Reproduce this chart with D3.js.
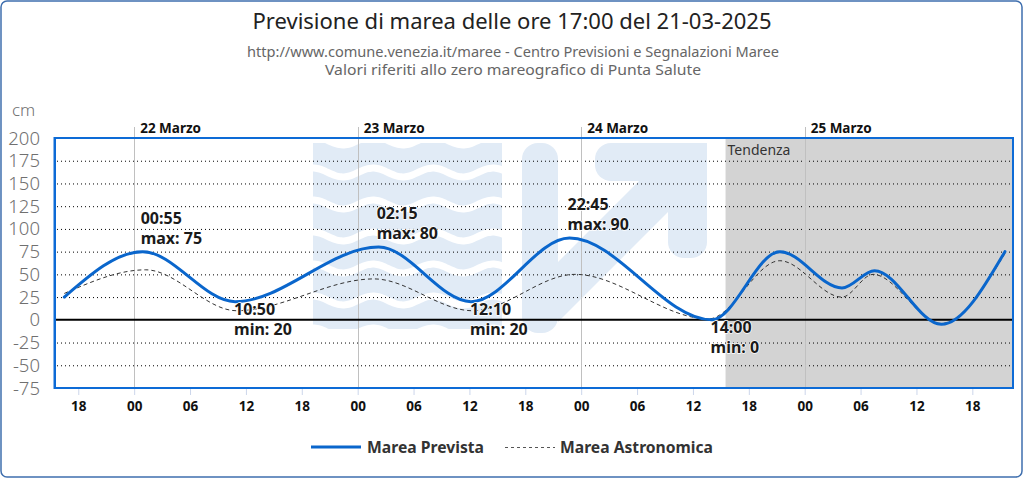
<!DOCTYPE html>
<html><head><meta charset="utf-8">
<script src="https://cdn.jsdelivr.net/npm/d3@7"></script>
<style>
html,body{margin:0;padding:0;background:#fff;}
svg{display:block;font-family:"Noto Sans",sans-serif;}
</style></head><body>
<svg id="chart" width="1024" height="480"></svg>
<script>
// ---------------- data ----------------
const titleText = "Previsione di marea delle ore 17:00 del 21-03-2025";
const subtitleLines = [
  "http://www.comune.venezia.it/maree - Centro Previsioni e Segnalazioni Maree",
  "Valori riferiti allo zero mareografico di Punta Salute"
];
const yTicks = [-75, -50, -25, 0, 25, 50, 75, 100, 125, 150, 175, 200];
const dayLabels = ["22 Marzo", "23 Marzo", "24 Marzo", "25 Marzo"];
const dayTimes = ["2025-03-22 00:00", "2025-03-23 00:00", "2025-03-24 00:00", "2025-03-25 00:00"];
const xDomainTimes = ["2025-03-21 15:30", "2025-03-25 22:22"];
const trendStart = "2025-03-24 15:30";
const trendLabel = "Tendenza";
const yUnit = "cm";

const previstaTimes = ["2025-03-21 16:30", "2025-03-22 00:55", "2025-03-22 10:50", "2025-03-23 02:15",
  "2025-03-23 12:10", "2025-03-23 22:45", "2025-03-24 14:00", "2025-03-24 21:20",
  "2025-03-25 04:00", "2025-03-25 07:30", "2025-03-25 14:40", "2025-03-25 21:30"];
const previstaValues = [25, 75, 20, 80, 20, 90, 0, 75, 35, 54, -5, 75];

const astroTimes = ["2025-03-21 16:30", "2025-03-22 01:15", "2025-03-22 11:00", "2025-03-23 01:45",
  "2025-03-23 12:20", "2025-03-23 23:20", "2025-03-24 13:40", "2025-03-24 21:20",
  "2025-03-25 04:00", "2025-03-25 07:20", "2025-03-25 14:40", "2025-03-25 21:30"];
const astroValues = [29, 55, 10, 45, 10, 50, 1, 65, 25, 50, -4, 73];

const extremeTimes = ["2025-03-22 00:55", "2025-03-22 10:50", "2025-03-23 02:15",
  "2025-03-23 12:10", "2025-03-23 22:45", "2025-03-24 14:00"];
const extremeValues = [75, 20, 80, 20, 90, 0];
const extremeTypes = ["max", "min", "max", "min", "max", "min"];

const seriesNames = ["Marea Prevista", "Marea Astronomica"];

// ---------------- drawing ----------------
const parse = d3.timeParse("%Y-%m-%d %H:%M");
const fmtHM = d3.timeFormat("%H:%M");
const fmtH = d3.timeFormat("%H");

const svg = d3.select("#chart");
const P = {left: 55, right: 1013, top: 138, bottom: 388};

const x = d3.scaleTime().domain(xDomainTimes.map(parse)).range([P.left, P.right]);
const y = d3.scaleLinear().domain([-75, 200]).range([P.bottom, P.top]);

const BLUE = "#0a66cc";
const WM = "#e1ebf6";

// outer frame
svg.append("rect").attr("x", 1).attr("y", 1).attr("width", 1021).attr("height", 476)
  .attr("rx", 6).attr("fill", "#fff").attr("stroke", "#3f6fae").attr("stroke-width", 1.5);

// title
svg.append("text").attr("x", 512).attr("y", 29).attr("text-anchor", "middle")
  .attr("font-size", 21).attr("fill", "#222")
  .attr("textLength", 519).attr("lengthAdjust", "spacingAndGlyphs").text(titleText);
const subW = [532, 376];
subtitleLines.forEach((s, i) => {
  svg.append("text").attr("x", 513).attr("y", 57 + i * 18).attr("text-anchor", "middle")
    .attr("font-size", 14).attr("fill", "#666")
    .attr("textLength", subW[i]).attr("lengthAdjust", "spacingAndGlyphs").text(s);
});

// watermark (plot background image)
const defs = svg.append("defs");
defs.append("clipPath").attr("id", "waveclip")
  .append("rect").attr("x", 313).attr("y", 143).attr("width", 189).attr("height", 186);
const wg = svg.append("g").attr("clip-path", "url(#waveclip)");
wg.append("rect").attr("x", 313).attr("y", 140).attr("width", 189).attr("height", 195).attr("fill", WM);
const waveLine = d3.line().curve(d3.curveBasis);
for (let k = 0; k < 7; k++) {
  const y0 = 140.5 + k * 32;
  const pts = [];
  for (let xx = 305; xx <= 510; xx += 3) pts.push([xx, y0 - 4.5 * Math.cos((xx - 313) / 60 * 2 * Math.PI)]);
  wg.append("path").attr("d", waveLine(pts)).attr("fill", "none").attr("stroke", "#fff")
    .attr("stroke-width", 7);
}
const wm = svg.append("g").attr("fill", WM);
wm.append("rect").attr("x", 522).attr("y", 143).attr("width", 36).attr("height", 190).attr("rx", 16);
wm.append("rect").attr("x", 595).attr("y", 143).attr("width", 112).attr("height", 38).attr("rx", 16);
wm.append("rect").attr("x", 668).attr("y", 143).attr("width", 39).attr("height", 115).attr("rx", 16);
wm.append("rect").attr("x", 640).attr("y", 143).attr("width", 67).attr("height", 38);
wm.append("rect").attr("x", 668).attr("y", 160).attr("width", 39).attr("height", 60);
wm.append("path").attr("d", "M558,262 L640,180 L668,180 L668,212 L558,322 Z");

// plot band
const xt = parse(trendStart);
svg.append("rect").attr("x", x(xt)).attr("y", P.top).attr("width", P.right - x(xt))
  .attr("height", P.bottom - P.top).attr("fill", "#d3d3d3");
svg.append("text").attr("x", x(xt) + 2).attr("y", 155).attr("font-size", 14)
  .attr("fill", "#333").text(trendLabel);

// horizontal dotted gridlines
svg.append("g").selectAll("line").data(yTicks.filter(v => v !== 0 && v !== 200 && v !== -75))
  .join("line").attr("x1", P.left + 2).attr("x2", P.right - 1)
  .attr("y1", d => y(d) + 0.5).attr("y2", d => y(d) + 0.5)
  .attr("stroke", "#000").attr("stroke-width", 1).attr("stroke-dasharray", "1,3");

// vertical day lines
const days = dayTimes.map(parse);
svg.append("g").selectAll("line").data(days).join("line")
  .attr("x1", d => Math.round(x(d)) + 0.5).attr("x2", d => Math.round(x(d)) + 0.5)
  .attr("y1", 127).attr("y2", P.bottom).attr("stroke", "#c0c0c0").attr("stroke-width", 1);
svg.append("g").selectAll("text").data(days).join("text")
  .attr("x", d => x(d) + 6).attr("y", 133).attr("font-size", 13.5).attr("font-weight", "bold")
  .attr("fill", "#111").text((d, i) => dayLabels[i]);

// zero line
svg.append("line").attr("x1", P.left).attr("x2", P.right).attr("y1", y(0)).attr("y2", y(0))
  .attr("stroke", "#000").attr("stroke-width", 2);

// y axis labels
svg.append("g").selectAll("text").data(yTicks).join("text")
  .attr("x", 40).attr("y", d => y(d) + 6.5).attr("text-anchor", "end")
  .attr("font-size", 18.5).attr("font-weight", 300).attr("fill", "#707070").text(d => d);
svg.append("text").attr("x", 12).attr("y", 116).attr("font-size", 17).attr("font-weight", 300)
  .attr("fill", "#707070").text(yUnit);

// x axis
const xAxis = d3.axisBottom(x).ticks(d3.timeHour.every(6)).tickFormat(fmtH).tickSize(7).tickPadding(6);
const gx = svg.append("g").attr("transform", `translate(0,${P.bottom})`).call(xAxis);
gx.select(".domain").remove();
gx.selectAll(".tick line").attr("stroke", "#ccd6eb");
gx.selectAll(".tick text").attr("font-size", 13.5).attr("font-weight", "bold").attr("fill", "#111")
  .attr("font-family", "Noto Sans, sans-serif");

// series
const line = d3.line().x(d => x(d[0])).y(d => y(d[1])).curve(d3.curveMonotoneX);
const astro = astroTimes.map((t, i) => [parse(t), astroValues[i]]);
const prev = previstaTimes.map((t, i) => [parse(t), previstaValues[i]]);
svg.append("path").attr("d", line(astro)).attr("fill", "none").attr("stroke", "#333")
  .attr("stroke-width", 1).attr("stroke-dasharray", "4,3");
svg.append("path").attr("d", line(prev)).attr("fill", "none").attr("stroke", BLUE)
  .attr("stroke-width", 3).attr("stroke-linejoin", "round").attr("stroke-linecap", "round");

// extreme labels
const lg = svg.append("g").attr("font-size", 16).attr("font-weight", "bold").attr("fill", "#1a1a1a")
  .attr("stroke", "#fff").attr("stroke-width", 1.5).attr("paint-order", "stroke").attr("stroke-linejoin", "round");
extremeTimes.forEach((t, i) => {
  const d = parse(t), v = extremeValues[i], isMax = extremeTypes[i] === "max";
  const px = x(d) - (isMax ? 2 : 1), py = y(v);
  const b1 = isMax ? py - 28 : py + 13.5;
  lg.append("text").attr("x", px).attr("y", b1).text(fmtHM(d));
  lg.append("text").attr("x", px).attr("y", b1 + 20).text(extremeTypes[i] + ": " + v);
});

// plot border
svg.append("rect").attr("x", P.left).attr("y", P.top).attr("width", P.right - P.left)
  .attr("height", P.bottom - P.top).attr("fill", "none").attr("stroke", "#0d6bd6").attr("stroke-width", 2);
svg.append("line").attr("x1", P.left - 0.5).attr("x2", P.left - 0.5).attr("y1", P.top - 1).attr("y2", P.bottom + 1)
  .attr("stroke", "#0d6bd6").attr("stroke-width", 2);

// legend
const leg = svg.append("g");
leg.append("line").attr("x1", 311).attr("x2", 361).attr("y1", 447).attr("y2", 447)
  .attr("stroke", BLUE).attr("stroke-width", 3);
leg.append("text").attr("x", 367).attr("y", 452.5).attr("font-size", 16).attr("font-weight", "bold")
  .attr("fill", "#333").attr("textLength", 117).attr("lengthAdjust", "spacingAndGlyphs").text(seriesNames[0]);
leg.append("line").attr("x1", 505).attr("x2", 555).attr("y1", 447.5).attr("y2", 447.5)
  .attr("stroke", "#555").attr("stroke-width", 1).attr("stroke-dasharray", "3,3");
leg.append("text").attr("x", 560).attr("y", 452.5).attr("font-size", 16).attr("font-weight", "bold")
  .attr("fill", "#333").attr("textLength", 153).attr("lengthAdjust", "spacingAndGlyphs").text(seriesNames[1]);
</script>
</body></html>
